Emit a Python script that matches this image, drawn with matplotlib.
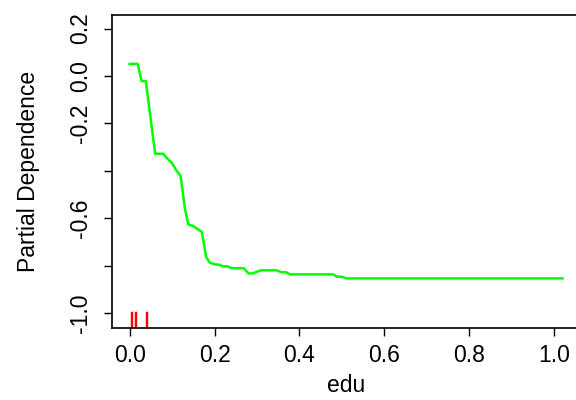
import matplotlib
matplotlib.use("Agg")
from matplotlib import pyplot as plt
import numpy as np

# partial dependence curve for edu
edu = [0.000, 0.019, 0.028, 0.038, 0.060, 0.079, 0.090, 0.099, 0.111, 0.120,
       0.130, 0.138, 0.150, 0.170, 0.180, 0.189, 0.201, 0.211, 0.219, 0.230,
       0.240, 0.269, 0.280, 0.290, 0.309, 0.346, 0.358, 0.368, 0.378, 0.480,
       0.488, 0.500, 0.511, 1.020]
pdep = [0.051, 0.051, -0.021, -0.021, -0.328, -0.328, -0.351, -0.366, -0.401, -0.421,
        -0.558, -0.626, -0.633, -0.658, -0.762, -0.788, -0.795, -0.796, -0.803, -0.803,
        -0.811, -0.811, -0.833, -0.833, -0.820, -0.820, -0.828, -0.828, -0.837, -0.837,
        -0.847, -0.847, -0.854, -0.854]
# rug (deciles of edu)
rug = [0.003, 0.005, 0.013, 0.014, 0.038, 0.040]

xticks = [0.0, 0.2, 0.4, 0.6, 0.8, 1.0]
yticks = [-1.0, -0.8, -0.6, -0.4, -0.2, 0.0, 0.2]
ylabels = ["-1.0", "", "-0.6", "", "-0.2", "0.0", "0.2"]

plt.rcParams["font.family"] = ["Liberation Sans", "DejaVu Sans"]

fig = plt.figure(figsize=(5.76, 4.0), dpi=100)
ax = fig.add_axes([112 / 576, 72 / 400, 468 / 576, 313.5 / 400])

ax.plot(edu, pdep, color="#00FF00", linewidth=1.8)
for r in rug:
    ax.axvline(r, ymin=0, ymax=16 / 313.5, color="red", linewidth=1.0)

ax.set_xlim(-0.0417, 1.0613)
ax.set_ylim(-1.0633, 0.2595)
ax.set_xticks(xticks)
ax.set_xticklabels(["%.1f" % t for t in xticks])
ax.set_yticks(yticks)
ax.set_yticklabels(ylabels, rotation=90, va="center")
ax.tick_params(axis="both", labelsize=16.5, length=5.5, width=1, color="black")
ax.tick_params(axis="x", pad=6)
ax.tick_params(axis="y", pad=9)
for s in ax.spines.values():
    s.set_linewidth(1.2)

ax.set_xlabel("edu", fontsize=16.5, labelpad=5)
ax.set_ylabel("Partial Dependence", fontsize=16.5, labelpad=21)

fig.savefig("out.png", dpi=100)
plt.close()
